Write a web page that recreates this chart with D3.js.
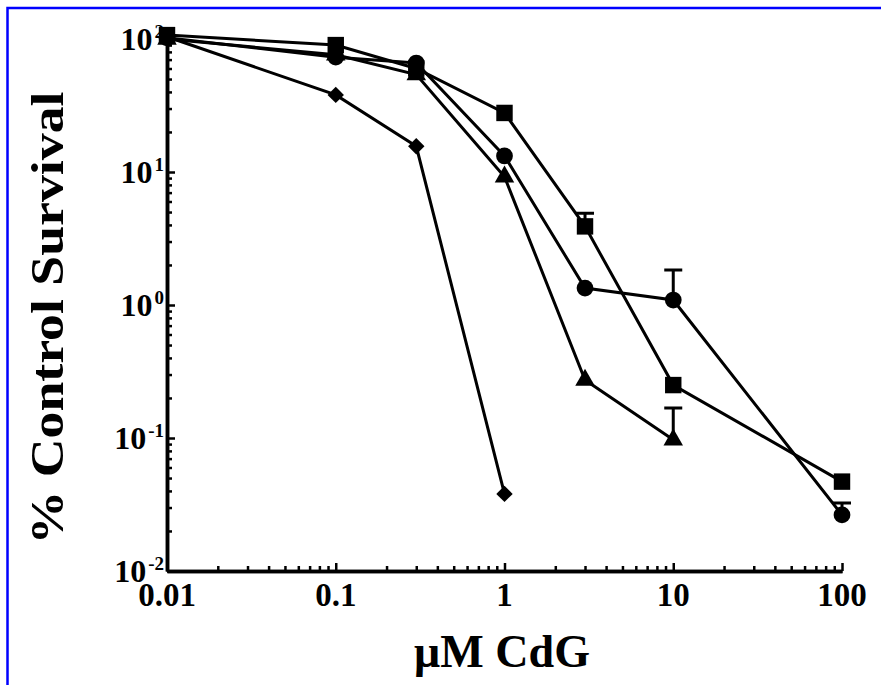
<!DOCTYPE html>
<html>
<head>
<meta charset="utf-8">
<script src="https://cdn.jsdelivr.net/npm/d3@7"></script>
<style>
  body { margin: 0; background: #fff; }
</style>
</head>
<body>
<div id="chart"></div>
<script>
// concentrations (uM CdG)
const doses = [0.01, 0.1, 0.3, 1, 3, 10, 100];

// % control survival
const squareVals   = [107, 90, 60, 27.8, 3.9, 0.25, 0.047];
const circleVals   = [102, 73, 66, 13.2, 1.34, 1.09, 0.0264];
const triangleVals = [100, 76, 54, 9.2, 0.273, 0.097];
const diamondVals  = [104, 38, 15.6, 0.038];

// upper error bar ends (null = none visible)
const squareErr   = [null, null, null, null, 4.9, null, null];
const circleErr   = [null, null, null, null, null, 1.83, 0.0324];
const triangleErr = [null, null, null, null, null, 0.168];

const xTickVals = [0.01, 0.1, 1, 10, 100];
const xTickLabels = ["0.01", "0.1", "1", "10", "100"];
const yTickVals = [0.01, 0.1, 1, 10, 100];
const yTickExps = ["-2", "-1", "0", "1", "2"];

const width = 881, height = 685;

const svg = d3.select("#chart").append("svg")
    .attr("width", width)
    .attr("height", height)
    .attr("font-family", "'Liberation Serif', 'Times New Roman', Times, serif")
    .attr("font-weight", "bold");

// blue frame, only top and left edges fall inside the picture
svg.append("rect")
    .attr("x", 7.5).attr("y", 8)
    .attr("width", 1000).attr("height", 1000)
    .attr("fill", "none")
    .attr("stroke", "#0000ff")
    .attr("stroke-width", 2.5);

const x = d3.scaleLog().domain([0.01, 100]).range([167, 842]);
const y = d3.scaleLog().domain([0.01, 100]).range([571, 39]);

// minor ticks: 2..9 of every decade
const minor = [];
for (let e = -2; e < 2; e++) {
  for (let k = 2; k <= 9; k++) minor.push(k * Math.pow(10, e));
}

function styleAxis(g) {
  g.selectAll("line").attr("stroke", "#000").attr("stroke-width", 2.5);
  g.select(".domain").attr("stroke", "#000").attr("stroke-width", 3.5);
  g.selectAll("text").remove();
}

// x axis
svg.append("g")
    .attr("transform", `translate(0,${y(0.01)})`)
    .call(d3.axisBottom(x).tickValues(minor).tickSize(-5).tickSizeOuter(0))
    .call(styleAxis);
svg.append("g")
    .attr("transform", `translate(0,${y(0.01)})`)
    .call(d3.axisBottom(x).tickValues(xTickVals).tickSize(-8).tickSizeOuter(0))
    .call(styleAxis);

// y axis
svg.append("g")
    .attr("transform", `translate(${x(0.01)},0)`)
    .call(d3.axisLeft(y).tickValues(minor).tickSize(-5).tickSizeOuter(0))
    .call(styleAxis);
svg.append("g")
    .attr("transform", `translate(${x(0.01)},0)`)
    .call(d3.axisLeft(y).tickValues(yTickVals).tickSize(-8).tickSizeOuter(0))
    .call(styleAxis);

// x tick labels
svg.append("g").selectAll("text")
  .data(xTickVals)
  .join("text")
    .attr("x", d => x(d))
    .attr("y", y(0.01) + 35)
    .attr("text-anchor", "middle")
    .attr("font-size", 33)
    .text((d, i) => xTickLabels[i]);

// y tick labels 10^n
const yl = svg.append("g").selectAll("text")
  .data(yTickVals)
  .join("text")
    .attr("x", x(0.01) - 3)
    .attr("y", d => y(d) + 11)
    .attr("text-anchor", "end")
    .attr("font-size", 32);
yl.append("tspan").text("10");
yl.append("tspan").attr("dx", 2).attr("dy", -12).attr("font-size", 19).text((d, i) => yTickExps[i]);

// axis titles
svg.append("text")
    .attr("x", 502)
    .attr("y", 667)
    .attr("text-anchor", "middle")
    .attr("font-size", 46)
    .attr("textLength", 176)
    .attr("lengthAdjust", "spacingAndGlyphs")
    .text("\u03BCM CdG");

svg.append("text")
    .attr("transform", "translate(63,318) rotate(-90)")
    .attr("text-anchor", "middle")
    .attr("font-size", 46)
    .attr("textLength", 453)
    .attr("lengthAdjust", "spacingAndGlyphs")
    .text("% Control Survival");

// series
const series = [
  { vals: diamondVals,  err: [],          symbol: d3.symbolSquare,   size: 135, rot: 45 },
  { vals: triangleVals, err: triangleErr, symbol: d3.symbolTriangle, size: 165, rot: 0 },
  { vals: circleVals,   err: circleErr,   symbol: d3.symbolCircle,   size: 220, rot: 0 },
  { vals: squareVals,   err: squareErr,   symbol: d3.symbolSquare,   size: 270, rot: 0 }
];

const line = d3.line()
    .x(d => x(d[0]))
    .y(d => y(d[1]));

series.forEach(s => {
  const pts = s.vals.map((v, i) => [doses[i], v]);
  const g = svg.append("g");

  // upper error bars
  const errs = s.err.map((e, i) => [doses[i], s.vals[i], e]).filter(d => d[2] != null);
  g.selectAll(".eb")
    .data(errs)
    .join("path")
      .attr("fill", "none")
      .attr("stroke", "#000")
      .attr("stroke-width", 3)
      .attr("d", d => `M${x(d[0])},${y(d[1])}V${y(d[2])}M${x(d[0]) - 9},${y(d[2])}H${x(d[0]) + 9}`);

  g.append("path")
      .datum(pts)
      .attr("fill", "none")
      .attr("stroke", "#000")
      .attr("stroke-width", 3)
      .attr("d", line);

  g.selectAll(".pt")
    .data(pts)
    .join("path")
      .attr("transform", d => `translate(${x(d[0])},${y(d[1])}) rotate(${s.rot})`)
      .attr("fill", "#000")
      .attr("d", d3.symbol(s.symbol, s.size));
});
</script>
</body>
</html>
